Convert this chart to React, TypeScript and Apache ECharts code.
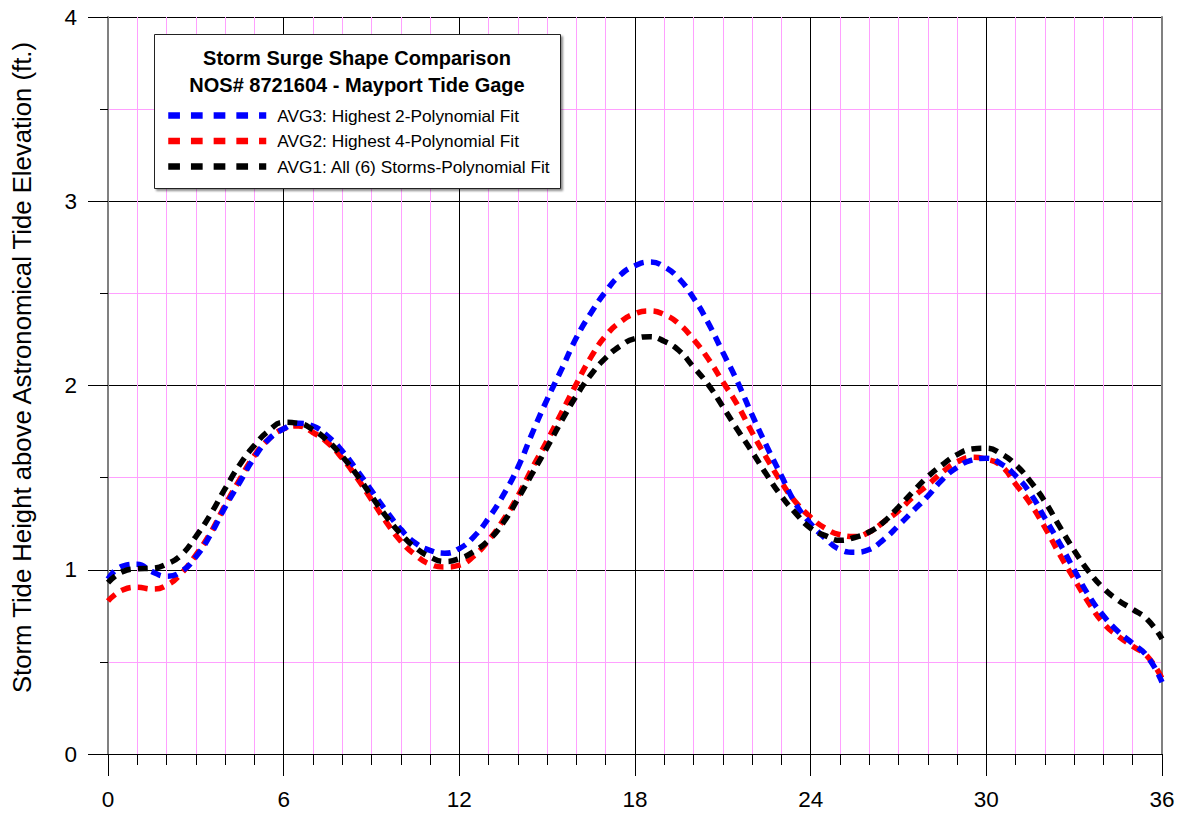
import React, { useEffect, useRef } from 'react';
import * as echarts from 'echarts';

const FONT = '"Liberation Sans", Arial, Helvetica, sans-serif';

const HOURS = [
  0, 0.5, 1, 1.5, 2, 2.5, 3, 3.5, 4, 4.5, 5, 5.5, 6, 6.5, 7, 7.5, 8, 8.5, 9, 9.5,
  10, 10.5, 11, 11.5, 12, 12.5, 13, 13.5, 14, 14.5, 15, 15.5, 16, 16.5, 17, 17.5,
  18, 18.5, 19, 19.5, 20, 20.5, 21, 21.5, 22, 22.5, 23, 23.5, 24, 24.5, 25, 25.5,
  26, 26.5, 27, 27.5, 28, 28.5, 29, 29.5, 30, 30.5, 31, 31.5, 32, 32.5, 33, 33.5,
  34, 34.5, 35, 35.5, 36,
];

const AVG3 = [
  0.95, 1.02, 1.03, 0.99, 0.965, 0.99, 1.07, 1.19, 1.34, 1.475, 1.61, 1.71, 1.765, 1.795, 1.78, 1.725, 1.645, 1.54, 1.43, 1.32,
  1.22, 1.145, 1.105, 1.09, 1.115, 1.18, 1.28, 1.405, 1.555, 1.745, 1.925, 2.09, 2.26, 2.395, 2.51, 2.6,
  2.65, 2.67, 2.645, 2.58, 2.475, 2.34, 2.18, 2.02, 1.84, 1.67, 1.51, 1.355, 1.25, 1.17, 1.11, 1.095,
  1.11, 1.165, 1.24, 1.32, 1.4, 1.49, 1.555, 1.595, 1.605, 1.575, 1.51, 1.415, 1.28, 1.145, 1.0, 0.86,
  0.75, 0.665, 0.6, 0.53, 0.39,
];

const AVG2 = [
  0.83, 0.89, 0.905, 0.895, 0.915, 0.98, 1.08, 1.2, 1.35, 1.49, 1.62, 1.71, 1.765, 1.78, 1.745, 1.69, 1.605, 1.5, 1.38, 1.26,
  1.155, 1.08, 1.03, 1.015, 1.025, 1.075, 1.16, 1.27, 1.4, 1.555, 1.7, 1.855, 2.01, 2.155, 2.27, 2.345,
  2.39, 2.405, 2.385, 2.335, 2.25, 2.145, 2.02, 1.895, 1.745, 1.605, 1.475, 1.365, 1.285, 1.225, 1.19, 1.18,
  1.205, 1.26, 1.32, 1.395, 1.46, 1.53, 1.585, 1.61, 1.6, 1.565, 1.465, 1.36, 1.23, 1.085, 0.95, 0.82,
  0.71, 0.64, 0.585, 0.53, 0.41,
];

const AVG1 = [
  0.93, 0.99, 1.005, 1.008, 1.03, 1.08, 1.18, 1.3, 1.44, 1.57, 1.675, 1.755, 1.8, 1.795, 1.76, 1.7, 1.615, 1.515, 1.4, 1.29,
  1.195, 1.12, 1.07, 1.045, 1.06, 1.1, 1.16, 1.255, 1.385, 1.525, 1.665, 1.81, 1.945, 2.06, 2.15, 2.215,
  2.255, 2.265, 2.24, 2.19, 2.1, 2.005, 1.885, 1.76, 1.64, 1.515, 1.4, 1.305, 1.225, 1.185, 1.16, 1.175,
  1.205, 1.26, 1.34, 1.425, 1.505, 1.57, 1.625, 1.655, 1.66, 1.63, 1.57, 1.48, 1.37, 1.235, 1.105, 0.99,
  0.9, 0.835, 0.785, 0.73, 0.625,
];

const SERIES_NAMES = [
  'AVG3: Highest 2-Polynomial Fit',
  'AVG2: Highest 4-Polynomial Fit',
  'AVG1: All (6) Storms-Polynomial Fit',
];
const SERIES_COLORS = ['#0000ff', '#ff0000', '#000000'];
const TITLE_LINES = ['Storm Surge Shape Comparison', 'NOS# 8721604 - Mayport Tide Gage'];
const Y_NAME = 'Storm Tide Height above Astronomical Tide Elevation (ft.)';

const PINK = '#ffa0ff';

function toPairs(vals: number[]) {
  return HOURS.map((h, i) => [h, vals[i]]);
}

export default function App() {
  const ref = useRef<HTMLDivElement>(null);

  useEffect(() => {
    if (!ref.current) return;
    const chart = echarts.init(ref.current, undefined, { renderer: 'svg' });
    const lineSeries = (name: string, vals: number[], color: string, z: number) => ({
      name,
      type: 'line',
      data: toPairs(vals),
      smooth: true,
      symbol: 'none',
      showSymbol: false,
      z,
      lineStyle: { color, width: 5.5, type: [10, 7], cap: 'butt' },
      itemStyle: { color },
    });
    chart.setOption({
      animation: false,
      backgroundColor: '#ffffff',
      textStyle: { fontFamily: FONT },
      grid: { left: 108, right: 23, top: 17, bottom: 63, containLabel: false },
      xAxis: {
        type: 'value',
        min: 0,
        max: 36,
        interval: 6,
        axisLine: { show: true, onZero: false, lineStyle: { color: '#000', width: 1 } },
        axisTick: { show: true, length: 22, lineStyle: { color: '#000', width: 1 } },
        minorTick: { show: true, splitNumber: 6, length: 11, lineStyle: { color: '#000', width: 1 } },
        splitLine: { show: true, lineStyle: { color: '#000', width: 1 } },
        minorSplitLine: { show: true, lineStyle: { color: PINK, width: 1 } },
        axisLabel: { fontSize: 22.5, color: '#000', margin: 34, fontFamily: FONT },
      },
      yAxis: [
        {
          type: 'value',
          min: 0,
          max: 4,
          interval: 1,
          axisLine: { show: true, lineStyle: { color: '#808080', width: 2 } },
          axisTick: { show: true, length: 20, lineStyle: { color: '#000', width: 1 } },
          minorTick: { show: true, splitNumber: 2, length: 8, lineStyle: { color: '#000', width: 1 } },
          splitLine: { show: true, lineStyle: { color: '#000', width: 1 } },
          minorSplitLine: { show: true, lineStyle: { color: PINK, width: 1 } },
          axisLabel: { fontSize: 22.5, color: '#000', margin: 31, fontFamily: FONT },
          name: Y_NAME,
          nameLocation: 'middle',
          nameGap: 73,
          nameTextStyle: { fontSize: 25.7, color: '#000', fontFamily: FONT, padding: [0, 0, 0, 36] },
        },
        {
          type: 'value',
          position: 'right',
          min: 0,
          max: 4,
          interval: 1,
          axisLine: { show: true, lineStyle: { color: '#808080', width: 2 } },
          axisTick: { show: false },
          axisLabel: { show: false },
          splitLine: { show: false },
        },
      ],
      legend: {
        orient: 'vertical',
        left: 160,
        top: 102,
        itemWidth: 98,
        itemHeight: 14,
        itemGap: 8.5,
        selectedMode: false,
        z: 110,
        data: SERIES_NAMES,
        textStyle: { fontSize: 17.3, color: '#000', fontFamily: FONT, padding: [0, 0, 0, 6] },
        lineStyle: { width: 6.5, type: [11.7, 11], cap: 'butt' },
        itemStyle: { opacity: 0 },
      },
      graphic: [
        {
          type: 'rect',
          left: 154,
          top: 34,
          z: 100,
          shape: { width: 406, height: 154 },
          style: {
            fill: '#ffffff',
            stroke: '#222',
            lineWidth: 1,
            shadowBlur: 2,
            shadowOffsetX: 2,
            shadowOffsetY: 2,
            shadowColor: 'rgba(0,0,0,0.45)',
          },
        },
        {
          type: 'text',
          x: 357,
          y: 58,
          z: 101,
          style: {
            text: TITLE_LINES[0],
            fontSize: 20,
            fontWeight: 'bold',
            fontFamily: FONT,
            fill: '#000',
            align: 'center',
            verticalAlign: 'middle',
          },
        },
        {
          type: 'text',
          x: 357,
          y: 85,
          z: 101,
          style: {
            text: TITLE_LINES[1],
            fontSize: 20,
            fontWeight: 'bold',
            fontFamily: FONT,
            fill: '#000',
            align: 'center',
            verticalAlign: 'middle',
          },
        },
      ],
      series: [
        lineSeries(SERIES_NAMES[1], AVG2, SERIES_COLORS[1], 2),
        lineSeries(SERIES_NAMES[0], AVG3, SERIES_COLORS[0], 3),
        lineSeries(SERIES_NAMES[2], AVG1, SERIES_COLORS[2], 4),
      ],
    });
    return () => chart.dispose();
  }, []);

  return (
    <div
      ref={ref}
      style={{ position: 'fixed', left: 0, top: 0, width: 1185, height: 817, background: '#fff' }}
    />
  );
}
